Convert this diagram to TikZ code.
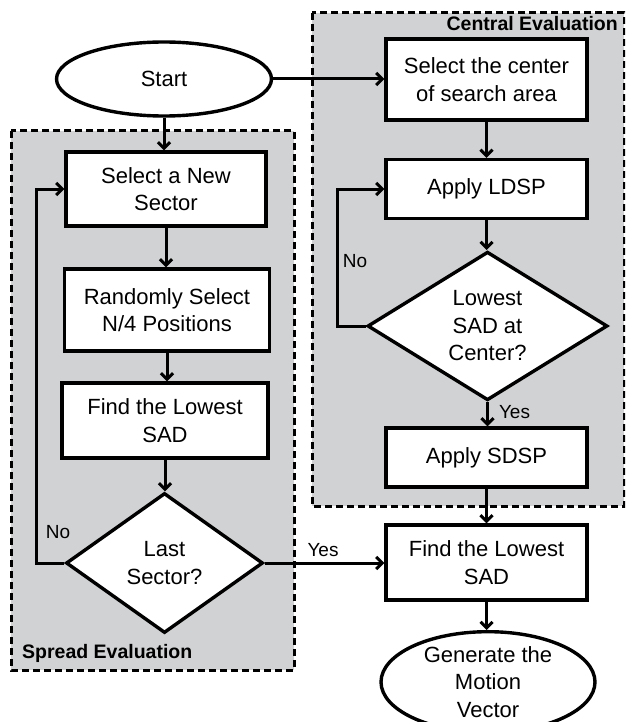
\documentclass[tikz,border=0pt]{standalone}
\usepackage{fontspec}
\setmainfont{Liberation Sans}
\usetikzlibrary{arrows.meta,shapes.geometric}
\definecolor{panel}{RGB}{209,210,211}
\begin{document}
\begin{tikzpicture}[x=1pt,y=-1pt,
  txt/.style={font=\fontsize{22}{27.5}\selectfont},
  proc/.style={txt,draw,line width=3.4pt,fill=white,align=center,inner sep=0pt},
  term/.style={txt,draw,ellipse,line width=3.4pt,fill=white,align=center,inner sep=0pt},
  decide/.style={txt,draw,diamond,line width=3.4pt,fill=white,align=center,inner sep=0pt},
  panelbox/.style={draw,fill=panel,line width=3pt,dash pattern=on 7pt off 4pt},
  paneltitle/.style={font=\bfseries\fontsize{19.5}{23}\selectfont,inner sep=0pt},
  lab/.style={font=\fontsize{19}{23}\selectfont,inner sep=0pt},
  arr/.style={line width=3pt,-{Straight Barb[length=6pt,width=12pt]}}
]
\clip (0,0) rectangle (625,722);
\useasboundingbox (0,0) rectangle (625,722);
% panels
\draw[panelbox] (312,13) rectangle (624,506);
\draw[panelbox] (11,131) rectangle (294,670);
\node[paneltitle,anchor=base east] (ctitle) at (618,31) {Central Evaluation};
\node[paneltitle,anchor=base west] (stitle) at (22,658) {Spread Evaluation};
% nodes
\node[term,minimum width=215pt,minimum height=74pt] (start) at (164,79) {Start};
\node[proc,minimum width=200pt,minimum height=74pt] (newsec) at (166,189) {Select a New\\Sector};
\node[proc,minimum width=205pt,minimum height=82pt] (rand) at (167,310) {Randomly Select\\N/4 Positions};
\node[proc,minimum width=206pt,minimum height=75pt] (findl) at (165,420.5) {Find the Lowest\\SAD};
\node[decide,minimum width=197pt,minimum height=140pt] (last) at (164.5,563) {Last\\Sector?};
\node[proc,minimum width=201pt,minimum height=81pt] (selc) at (486.5,79.5) {Select the center\\of search area};
\node[proc,minimum width=201pt,minimum height=59pt] (ldsp) at (486.5,189) {Apply LDSP};
\node[decide,minimum width=240pt,minimum height=128pt] (low) at (487.5,326) {Lowest\\SAD at\\Center?};
\node[proc,minimum width=201pt,minimum height=59pt] (sdsp) at (486.5,457.5) {Apply SDSP};
\node[proc,minimum width=201pt,minimum height=75pt] (findr) at (486.5,562.5) {Find the Lowest\\SAD};
\node[term,minimum width=214pt,minimum height=94pt] (gen) at (488,682) {Generate the\\Motion\\Vector};
% loop coordinates
\coordinate (lp) at (36,563);
\coordinate (rp) at (337,326);
% connectors
\draw[arr] (start.east) -- (selc.west |- start.east);
\draw[arr] (start.south) -- (start.south |- newsec.north);
\draw[arr] (newsec.south) -- (newsec.south |- rand.north);
\draw[arr] (rand.south) -- (rand.south |- findl.north);
\draw[arr] (findl.south) -- (findl.south |- last.north);
\draw[arr] (last.west) -- (lp) |- (newsec.west);
\draw[arr] (last.east) -- (findr.west |- last.east);
\draw[arr] (selc.south) -- (ldsp.north);
\draw[arr] (ldsp.south) -- (ldsp.south |- low.north);
\draw[arr] (low.west) -- (rp) |- (ldsp.west);
\draw[arr] (low.south) -- (low.south |- sdsp.north);
\draw[arr] (sdsp.south) -- (findr.north);
\draw[arr] (findr.south) -- (findr.south |- gen.north);
% labels
\node[lab] (no1) at (58,532) {No};
\node[lab] (yes1) at (323,550) {Yes};
\node[lab] (no2) at (355,261.5) {No};
\node[lab] (yes2) at (514.5,412) {Yes};
\end{tikzpicture}
\end{document}
